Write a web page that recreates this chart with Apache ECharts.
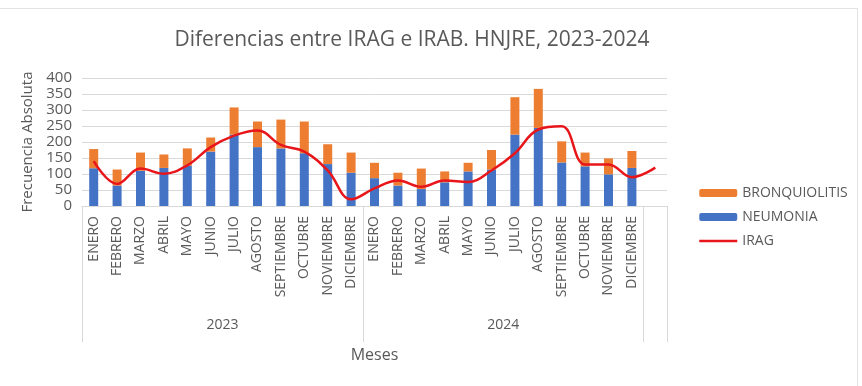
<!DOCTYPE html>
<html><head><meta charset="utf-8">
<script src="https://cdn.jsdelivr.net/npm/echarts@6/dist/echarts.min.js"></script>
<style>
html,body{margin:0;padding:0;background:#fff;}
#frame{position:absolute;left:-2px;top:8px;width:860px;height:400px;border:1px solid #e3e3e3;box-sizing:border-box;}
#chart{position:absolute;left:0;top:0;width:862px;height:386px;}
</style></head>
<body>
<div id="frame"></div>
<div id="chart"></div>
<script>
const months = ['ENERO','FEBRERO','MARZO','ABRIL','MAYO','JUNIO','JULIO','AGOSTO','SEPTIEMBRE','OCTUBRE','NOVIEMBRE','DICIEMBRE',
                'ENERO','FEBRERO','MARZO','ABRIL','MAYO','JUNIO','JULIO','AGOSTO','SEPTIEMBRE','OCTUBRE','NOVIEMBRE','DICIEMBRE',''];
const years = ['2023','2024'];
const yearBoundaries = [0,12,24,25];
const yearCenters = [6,18];
const neumonia = [118,64,110,119,126,170,223,184,180,165,131,104, 87,64,53,74,108,114,223,244,136,124,99,119, null];
const bronquiolitis = [60,50,57,42,54,44,85,80,90,99,62,63, 48,40,64,34,27,61,117,122,66,43,50,53, null];
const irag = [140,69,117,101,127,184,220,236,191,170,111,21, 55,80,60,80,75,111,165,239,249,130,130,90,120];

const chart = echarts.init(document.getElementById('chart'));
const txt = '#595959';
chart.setOption({
  animation:false,
  title:{text:'Diferencias entre IRAG e IRAB. HNJRE, 2023-2024', left:407, top:25, textAlign:'center',
    textStyle:{fontFamily:'Open Sans', fontWeight:'normal', fontSize:21, color:txt}},
  legend:{orient:'vertical', left:693, top:181, itemWidth:38, itemHeight:8, itemGap:10,
    textStyle:{fontFamily:'Open Sans', fontSize:14, color:txt},
    data:['BRONQUIOLITIS','NEUMONIA',{name:'IRAG', itemStyle:{opacity:0}, lineStyle:{color:'#E8161B', width:2.5, opacity:1}}]},
  grid:{left:82, right:195, top:78, bottom:180},
  xAxis:[{
    type:'category', data:months, boundaryGap:true,
    name:'Meses', nameLocation:'middle', nameGap:141,
    nameTextStyle:{fontFamily:'Open Sans', fontSize:16, color:txt},
    axisLine:{lineStyle:{color:'#d9d9d9'}},
    axisTick:{show:false},
    axisLabel:{rotate:90, interval:0, margin:10, fontFamily:'Open Sans', fontSize:14, color:txt}
  },{
    type:'value', min:0, max:25, position:'bottom',
    axisLine:{show:false}, splitLine:{show:false},
    axisTick:{show:true, customValues:yearBoundaries, length:136, lineStyle:{color:'#d9d9d9'}},
    axisLabel:{customValues:yearCenters, margin:112, formatter:function(v){return years[yearCenters.indexOf(v)];},
      fontFamily:'Open Sans', fontSize:14, color:txt}
  }],
  yAxis:{type:'value', min:0, max:400, interval:50,
    name:'Frecuencia Absoluta', nameLocation:'middle', nameGap:44,
    nameTextStyle:{fontFamily:'Open Sans', fontSize:15, color:txt},
    axisLine:{show:false}, axisTick:{show:false},
    axisLabel:{fontFamily:'Open Sans', fontSize:15, color:txt, margin:10},
    splitLine:{lineStyle:{color:'#d9d9d9'}}},
  series:[
    {name:'NEUMONIA', type:'bar', stack:'t', data:neumonia, barWidth:9, itemStyle:{color:'#4472C4'}},
    {name:'BRONQUIOLITIS', type:'bar', stack:'t', data:bronquiolitis, barWidth:9, itemStyle:{color:'#ED7D31'}},
    {name:'IRAG', type:'line', data:irag, smooth:0.4, symbol:'none', lineStyle:{color:'#E8161B', width:2.5}, itemStyle:{color:'#E8161B'}}
  ]
});
</script>
</body></html>
